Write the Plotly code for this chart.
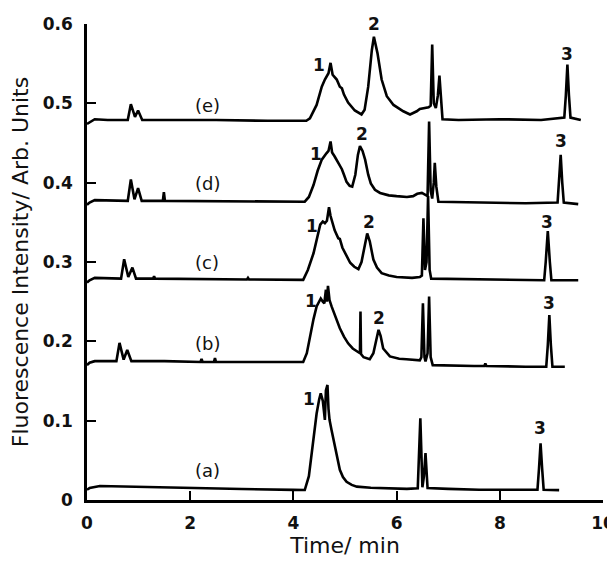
# -*- coding: utf-8 -*-
"""Хроматограммы (a)-(e), сдвинутые по вертикали: флуоресценция vs время."""

import plotly.graph_objects as go

# --- данные -----------------------------------------------------------------

t_a = [0.00, 0.05, 0.25, 1.00, 2.00, 3.00, 4.00, 4.22, 4.30, 4.35, 4.45, 4.50,
       4.53, 4.57, 4.61, 4.63, 4.66, 4.68, 4.70, 4.74, 4.79, 4.84, 4.90, 4.96,
       5.03, 5.13, 5.23, 5.50, 5.88, 6.20, 6.41, 6.46, 6.50, 6.53, 6.56, 6.60,
       7.00, 7.60, 8.50, 8.73, 8.76, 8.79, 8.82, 8.85, 9.15]
y_a = [0.013, 0.015, 0.0177, 0.0165, 0.015, 0.0138, 0.0128, 0.0126, 0.030, 0.059,
       0.109, 0.127, 0.1345, 0.125, 0.101, 0.138, 0.145, 0.115, 0.101, 0.088,
       0.072, 0.0546, 0.038, 0.029, 0.023, 0.019, 0.0168, 0.0155, 0.0143, 0.014,
       0.0147, 0.103, 0.016, 0.030, 0.059, 0.015, 0.014, 0.013, 0.013, 0.013,
       0.040, 0.0715, 0.040, 0.013, 0.0125]

t_b = [0.00, 0.05, 0.15, 0.40, 0.57, 0.63, 0.71, 0.78, 0.86, 1.50, 2.20, 2.22,
       2.24, 2.46, 2.48, 2.50, 3.50, 4.19, 4.26, 4.32, 4.39, 4.45, 4.53, 4.57,
       4.60, 4.63, 4.65, 4.67, 4.70, 4.74, 4.82, 4.90, 4.98, 5.06, 5.15, 5.23,
       5.29, 5.30, 5.31, 5.36, 5.48, 5.55, 5.60, 5.65, 5.69, 5.74, 5.87, 6.05,
       6.19, 6.45, 6.48, 6.51, 6.54, 6.56, 6.60, 6.63, 6.66, 6.70, 7.50, 7.70,
       7.72, 7.74, 8.50, 8.90, 8.93, 8.96, 8.99, 9.02, 9.26]
y_b = [0.170, 0.173, 0.175, 0.175, 0.175, 0.198, 0.177, 0.189, 0.175, 0.175,
       0.174, 0.178, 0.174, 0.174, 0.179, 0.174, 0.174, 0.174, 0.185, 0.206,
       0.228, 0.244, 0.254, 0.250, 0.248, 0.265, 0.250, 0.270, 0.252, 0.244,
       0.229, 0.2165, 0.206, 0.1975, 0.191, 0.187, 0.185, 0.2375, 0.184, 0.180,
       0.1775, 0.185, 0.200, 0.2145, 0.207, 0.191, 0.181, 0.178, 0.1775, 0.176,
       0.180, 0.248, 0.180, 0.1745, 0.185, 0.2565, 0.180, 0.170, 0.169, 0.169,
       0.172, 0.169, 0.168, 0.168, 0.195, 0.233, 0.195, 0.168, 0.168]

t_c = [0.00, 0.05, 0.15, 0.50, 0.66, 0.72, 0.80, 0.88, 0.95, 1.28, 1.30, 1.32,
       2.50, 3.10, 3.12, 3.14, 4.19, 4.28, 4.39, 4.46, 4.52, 4.57, 4.61, 4.65,
       4.69, 4.72, 4.74, 4.80, 4.87, 4.90, 4.95, 5.03, 5.10, 5.18, 5.26, 5.32,
       5.38, 5.43, 5.48, 5.55, 5.62, 5.71, 5.85, 6.00, 6.30, 6.45, 6.49, 6.52,
       6.55, 6.58, 6.61, 6.64, 6.67, 7.50, 8.50, 8.86, 8.89, 8.93, 8.97, 9.00,
       9.52]
y_c = [0.274, 0.277, 0.280, 0.279, 0.279, 0.3035, 0.281, 0.293, 0.279, 0.279,
       0.282, 0.279, 0.278, 0.278, 0.280, 0.278, 0.2775, 0.290, 0.311, 0.330,
       0.347, 0.351, 0.349, 0.352, 0.369, 0.358, 0.353, 0.340, 0.330, 0.329,
       0.318, 0.307, 0.299, 0.294, 0.291, 0.300, 0.322, 0.336, 0.326, 0.303,
       0.293, 0.286, 0.283, 0.281, 0.280, 0.281, 0.283, 0.355, 0.290, 0.300,
       0.383, 0.290, 0.279, 0.278, 0.277, 0.277, 0.300, 0.339, 0.300, 0.277,
       0.277]

t_d = [0.00, 0.05, 0.15, 0.50, 0.79, 0.85, 0.92, 0.99, 1.06, 1.47, 1.49, 1.51,
       3.00, 4.22, 4.30, 4.39, 4.47, 4.55, 4.64, 4.68, 4.72, 4.75, 4.80, 4.87,
       4.94, 4.98, 5.03, 5.09, 5.14, 5.20, 5.25, 5.29, 5.34, 5.39, 5.45, 5.50,
       5.58, 5.68, 5.85, 6.00, 6.20, 6.32, 6.40, 6.49, 6.55, 6.60, 6.63, 6.66,
       6.69, 6.72, 6.74, 6.77, 6.81, 7.50, 8.50, 9.12, 9.15, 9.18, 9.21, 9.24,
       9.52]
y_d = [0.372, 0.375, 0.378, 0.377, 0.377, 0.404, 0.379, 0.393, 0.377, 0.377,
       0.388, 0.377, 0.376, 0.376, 0.382, 0.397, 0.415, 0.429, 0.437, 0.440,
       0.452, 0.438, 0.433, 0.425, 0.417, 0.410, 0.401, 0.396, 0.395, 0.410,
       0.435, 0.446, 0.440, 0.429, 0.410, 0.399, 0.391, 0.387, 0.384, 0.383,
       0.382, 0.383, 0.386, 0.387, 0.385, 0.383, 0.477, 0.390, 0.380, 0.400,
       0.425, 0.395, 0.376, 0.375, 0.374, 0.375, 0.400, 0.435, 0.400, 0.375,
       0.373]

t_e = [0.00, 0.05, 0.15, 0.40, 0.79, 0.85, 0.93, 0.99, 1.07, 1.50, 2.50, 3.50,
       4.25, 4.32, 4.45, 4.55, 4.61, 4.68, 4.72, 4.76, 4.84, 4.90, 4.94, 4.98,
       5.06, 5.19, 5.32, 5.38, 5.45, 5.52, 5.56, 5.63, 5.71, 5.81, 5.94, 6.13,
       6.26, 6.39, 6.45, 6.62, 6.66, 6.69, 6.72, 6.76, 6.80, 6.83, 6.86, 6.89,
       7.20, 8.00, 8.80, 9.25, 9.28, 9.31, 9.34, 9.37, 9.57]
y_e = [0.474, 0.476, 0.480, 0.479, 0.479, 0.499, 0.483, 0.491, 0.479, 0.479,
       0.479, 0.478, 0.478, 0.481, 0.498, 0.521, 0.530, 0.538, 0.551, 0.536,
       0.530, 0.521, 0.519, 0.511, 0.501, 0.491, 0.486, 0.492, 0.521, 0.567,
       0.584, 0.563, 0.530, 0.509, 0.498, 0.490, 0.486, 0.490, 0.493, 0.495,
       0.497, 0.574, 0.500, 0.494, 0.510, 0.535, 0.500, 0.480, 0.479, 0.480,
       0.479, 0.482, 0.510, 0.549, 0.510, 0.482, 0.479]

# подписи хроматограмм
curve_names = ["(a)", "(b)", "(c)", "(d)", "(e)"]
curve_name_t = [2.33, 2.33, 2.33, 2.33, 2.33]
curve_name_y = [0.037, 0.1967, 0.2997, 0.3985, 0.497]

# номера пиков (у "2" над (e) центр чуть выше 0.6 -> сдвиг в пикселях)
peak_text = ["1", "1", "1", "1", "1", "2", "2", "2", "2", "3", "3", "3", "3", "3"]
peak_t = [4.30, 4.35, 4.37, 4.44, 4.50, 5.66, 5.46, 5.32, 5.56,
          8.78, 8.95, 8.92, 9.19, 9.30]
peak_y = [0.127, 0.251, 0.345, 0.436, 0.548, 0.229, 0.351, 0.4615, 0.598,
          0.091, 0.248, 0.351, 0.452, 0.562]
peak_shift = [0, 0, 0, 0, 0, 0, 0, 0, 2, 0, 0, 0, 0, 0]

x_ticks = [0, 2, 4, 6, 8, 10]
y_ticks = [0, 0.1, 0.2, 0.3, 0.4, 0.5, 0.6]
y_tick_text = ["0", "0.1", "0.2", "0.3", "0.4", "0.5", "0.6"]

FONT = "DejaVu Sans, Arial, sans-serif"

# страница html имеет отступ body 8px -> фигура чуть меньше окна
PAGE_PAD = 8

# --- рисунок ---------------------------------------------------------------

fig = go.Figure()

for tt, yy in [(t_a, y_a), (t_b, y_b), (t_c, y_c), (t_d, y_d), (t_e, y_e)]:
    fig.add_trace(
        go.Scatter(
            x=tt,
            y=yy,
            mode="lines",
            line=dict(color="black", width=2.6),
            showlegend=False,
            hoverinfo="skip",
            cliponaxis=False,
        )
    )

for name, tx, ty in zip(curve_names, curve_name_t, curve_name_y):
    fig.add_annotation(
        x=tx, y=ty, xref="x", yref="y", text=name, showarrow=False,
        font=dict(family=FONT, size=18, color="#111"),
        xanchor="center", yanchor="middle",
    )

for txt, tx, ty, sh in zip(peak_text, peak_t, peak_y, peak_shift):
    fig.add_annotation(
        x=tx, y=ty, xref="x", yref="y", text="<b>" + txt + "</b>", showarrow=False,
        font=dict(family=FONT, size=17, color="#111"),
        xanchor="center", yanchor="middle", yshift=sh,
    )

axis_common = dict(
    showline=True,
    linecolor="black",
    linewidth=2.5,
    ticks="inside",
    ticklen=9,
    tickwidth=2,
    tickcolor="black",
    showgrid=False,
    zeroline=False,
    mirror=False,
    automargin=False,
    tickfont=dict(family=FONT, size=17, color="#111", weight="bold"),
)

fig.update_layout(
    width=615 - PAGE_PAD,
    height=564 - PAGE_PAD,
    plot_bgcolor="white",
    paper_bgcolor="white",
    margin=dict(l=87 - PAGE_PAD, r=12, t=24 - PAGE_PAD, b=64),
    xaxis=dict(
        range=[0, 10],
        tickvals=x_ticks,
        ticklabelstandoff=6,
        title=dict(text="Time/ min", font=dict(family=FONT, size=22, color="#111"), standoff=6),
        **axis_common,
    ),
    yaxis=dict(
        range=[0, 0.6],
        tickvals=y_ticks,
        ticktext=y_tick_text,
        ticklabelstandoff=8,
        title=dict(
            text="Fluorescence Intensity/ Arb. Units",
            font=dict(family=FONT, size=22, color="#111"),
            standoff=14,
        ),
        **axis_common,
    ),
)

fig.write_html("out.html")
